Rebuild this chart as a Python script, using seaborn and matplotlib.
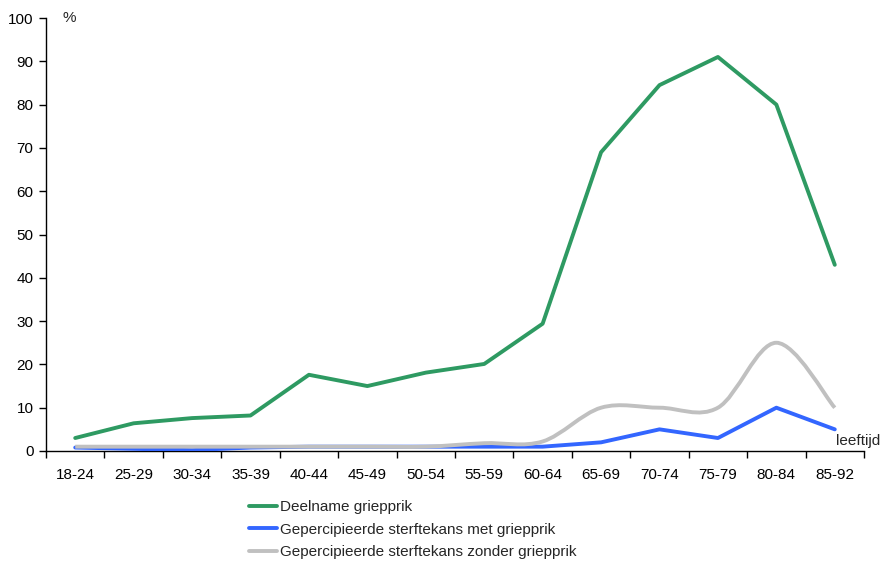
import numpy as np
import pandas as pd
import matplotlib
matplotlib.use("Agg")
import matplotlib.pyplot as plt
import seaborn as sns
from matplotlib.path import Path
from matplotlib.patches import PathPatch
from matplotlib.lines import Line2D

categories = ["18-24", "25-29", "30-34", "35-39", "40-44", "45-49", "50-54",
              "55-59", "60-64", "65-69", "70-74", "75-79", "80-84", "85-92"]
deelname = [3.0, 6.4, 7.6, 8.2, 17.6, 15.0, 18.1, 20.1, 29.4, 69.0, 84.5, 91.0, 80.0, 43.0]
met_griepprik = [0.8, 0.5, 0.2, 0.8, 1.0, 1.0, 1.0, 1.0, 1.0, 2.0, 5.0, 3.0, 10.0, 5.0]
zonder_griepprik = [1.0, 1.0, 1.0, 1.0, 1.0, 1.0, 1.0, 1.8, 2.2, 10.0, 10.0, 10.0, 25.0, 10.0]
labels = ["Deelname griepprik",
          "Gepercipieerde sterftekans met griepprik",
          "Gepercipieerde sterftekans zonder griepprik"]

sns.set_style("white")
plt.rcParams['font.family'] = ['Liberation Sans', 'DejaVu Sans']

GREEN = "#2E9A62"
BLUE = "#3366FF"
GRAY = "#C0C0C0"
FS = 11
LW = 2.8

fig = plt.figure(figsize=(8.82, 5.61), dpi=100)
ax = fig.add_axes([46/882, (561-451)/561, (864-46)/882, (451-18)/561])

xs = np.arange(len(categories))
df = pd.DataFrame({"x": xs, "deelname": deelname, "met": met_griepprik})
sns.lineplot(data=df, x="x", y="deelname", ax=ax, color=GREEN, lw=LW, zorder=3)
sns.lineplot(data=df, x="x", y="met", ax=ax, color=BLUE, lw=LW, zorder=4)

# smoothed line (Catmull-Rom -> Bezier), Excel-style smoothing
pts = np.column_stack([xs, zonder_griepprik]).astype(float)
verts = [tuple(pts[0])]
codes = [Path.MOVETO]
n = len(pts)
for i in range(n - 1):
    p0 = pts[i - 1] if i > 0 else pts[i]
    p1 = pts[i]
    p2 = pts[i + 1]
    p3 = pts[i + 2] if i + 2 < n else pts[i + 1]
    c1 = p1 + (p2 - p0) / 6.0
    c2 = p2 - (p3 - p1) / 6.0
    verts += [tuple(c1), tuple(c2), tuple(p2)]
    codes += [Path.CURVE4] * 3
ax.add_patch(PathPatch(Path(verts, codes), fill=False, edgecolor=GRAY, lw=LW,
                       zorder=5, capstyle='butt', joinstyle='round'))

ax.set_xlim(-0.5, len(categories) - 0.5)
ax.set_ylim(0, 100)
ax.set_yticks(np.arange(0, 101, 10))
ax.set_xticks(xs)
ax.set_xticklabels(categories)
ax.set_xticks(np.arange(-0.5, len(categories), 1.0), minor=True)
ax.tick_params(axis='x', which='major', length=0, pad=12, labelsize=FS, colors='black')
ax.tick_params(axis='x', which='minor', length=5, width=1, direction='out', color='black', bottom=True)
ax.tick_params(axis='y', which='major', length=5, width=1, direction='out', left=True,
               labelsize=FS, colors='black', pad=4)
ax.set_xlabel("")
ax.set_ylabel("")
for s in ["top", "right"]:
    ax.spines[s].set_visible(False)
for s in ["left", "bottom"]:
    ax.spines[s].set_color("black")
    ax.spines[s].set_linewidth(1)
ax.grid(False)

ax.text(0.02, 100, "%", transform=ax.get_yaxis_transform(), fontsize=FS, va='center', ha='left')
ax.text(836/882, (561-441)/561, "leeftijd", transform=fig.transFigure, fontsize=FS,
        va='center', ha='left')

handles = [Line2D([], [], color=c, lw=LW) for c in (GREEN, BLUE, GRAY)]
fig.legend(handles, labels, loc='upper left', bbox_to_anchor=(249/882, (561-500)/561),
           frameon=False, fontsize=FS, handlelength=1.85, handletextpad=0.2,
           labelspacing=0.56, borderpad=0, borderaxespad=0)

fig.savefig("out.png", dpi=100)
